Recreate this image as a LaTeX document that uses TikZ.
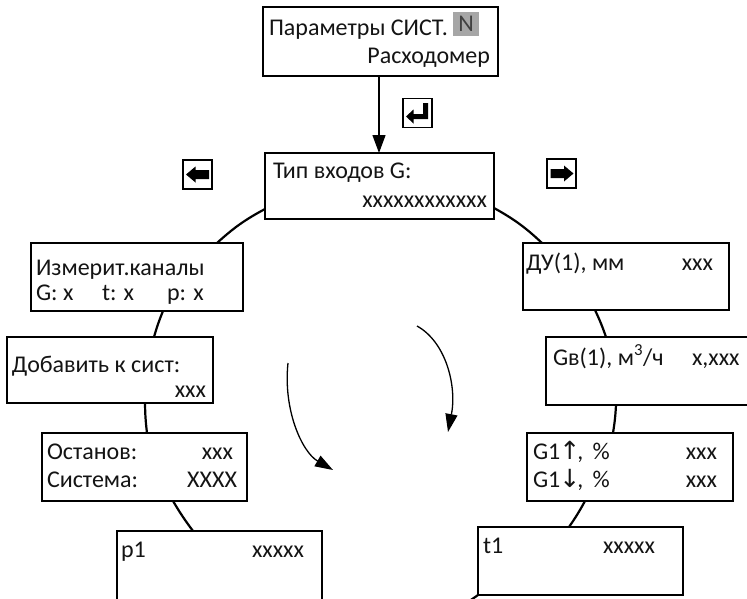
\documentclass[tikz,border=0pt]{standalone}
\usepackage{fontspec}
\setmainfont{Carlito}
\newfontfamily\symf{DejaVu Sans}
\usetikzlibrary{arrows.meta,calc}
\definecolor{hlgray}{RGB}{166,166,166}
\definecolor{ink}{RGB}{20,20,20}
\tikzset{
  box/.style={draw=black, line width=2.2pt, fill=white, rectangle, inner sep=0pt, outer sep=0pt, anchor=north west},
  txt/.style={inner sep=0pt, outer sep=0pt, text=ink, font=\fontsize{24}{28}\selectfont},
  conn/.style={draw=black, line width=2.2pt},
  keybox/.style={draw=black, line width=1.4pt, fill=white, rectangle, inner sep=0pt, minimum width=29pt, minimum height=29pt},
  rotarrow/.style={draw=black, line width=1.3pt, -{Triangle[length=18pt,width=12pt]}}
}
\begin{document}
\begin{tikzpicture}[x=1pt,y=1pt]
\useasboundingbox (0,0) rectangle (747,-598);

% --- boxes ---
\node[box, minimum width=235pt, minimum height=69pt] (top) at (263,-7) {};
\node[box, minimum width=229pt, minimum height=66pt] (tip) at (265,-153) {};
\node[box, minimum width=212pt, minimum height=68pt] (izm) at (31,-243) {};
\node[box, minimum width=206pt, minimum height=66pt] (dob) at (7,-337) {};
\node[box, minimum width=205pt, minimum height=68pt] (ost) at (42,-433) {};
\node[box, minimum width=205pt, minimum height=69pt] (p1) at (117,-531) {};
\node[box, minimum width=206pt, minimum height=67pt] (du) at (523,-243) {};
\node[box, minimum width=216pt, minimum height=68pt] (gv) at (546,-337) {};
\node[box, minimum width=206pt, minimum height=68pt] (g1) at (527,-433) {};
\node[box, minimum width=205pt, minimum height=68pt] (t1) at (478,-527) {};

% --- connectors (ring) ---
\draw[conn] ($(tip.south west)+(0,10)$) to[bend right=7] ($(izm.north east)+(-26,0)$);
\draw[conn] ($(tip.south east)+(0,11)$) to[bend left=7] ($(du.north west)+(19,0)$);
\draw[conn] ($(izm.south west)+(132,0)$) to[bend right=3] ($(dob.north west)+(147,0)$);
\draw[conn] ($(dob.south west)+(138,0)$) to[bend right=3] ($(ost.north west)+(105,0)$);
\draw[conn] ($(ost.south west)+(131,0)$) to[bend right=3] ($(p1.north west)+(76,0)$);
\draw[conn] ($(du.south west)+(72,0)$) to[bend left=3] ($(gv.north west)+(60,0)$);
\draw[conn] ($(gv.south west)+(70,0)$) to[bend left=3] ($(g1.north west)+(86,0)$);
\draw[conn] ($(g1.south west)+(58,0)$) to[bend left=3] ($(t1.north west)+(91,0)$);
\coordinate (tout) at (466,-603);
\draw[conn] (t1.south west) to[bend left=2] (tout);

% --- entry arrow ---
\draw[line width=1.3pt, -{Triangle[length=18pt,width=13pt]}] (top.south -| 379,0) -- (tip.north -| 379,0);

% --- key icons ---
\node[keybox] (kenter) at (417.5,-113) {};
\fill[black] ($(kenter.center)+(-11.5,-3.5)$) -- ++(7.5,7) -- ++(0,-4.5) -- ++(9.5,0) -- ++(0,11) -- ++(5,0)
  -- ++(0,-16) -- ++(-14.5,0) -- ++(0,-4.5) -- cycle;
\node[keybox] (kleft) at (197.5,-174.5) {};
\fill[black] ($(kleft.center)+(-11.5,0)$) -- ++(9.5,8) -- ++(0,-3.5) -- ++(13.5,0) -- ++(0,-9) -- ++(-13.5,0) -- ++(0,-3.5) -- cycle;
\node[keybox] (kright) at (561.5,-173.5) {};
\fill[black] ($(kright.center)+(12,0)$) -- ++(-9.5,8) -- ++(0,-3.5) -- ++(-13.5,0) -- ++(0,-9) -- ++(13.5,0) -- ++(0,-3.5) -- cycle;

% --- rotation arrows ---
\coordinate (la0) at (288,-363);
\coordinate (la1) at (333,-470);
\draw[rotarrow] (la0) .. controls (283,-410) and (302,-452) .. (la1);
\coordinate (ra0) at (417,-326);
\coordinate (ra1) at (448,-432);
\draw[rotarrow] (ra0) .. controls (446,-342) and (457,-386) .. (ra1);

% --- texts ---
\node[txt, anchor=base west] (t-top1) at (269,-35) {Параметры СИСТ.};
\node[fill=hlgray, inner sep=0pt, minimum width=26pt, minimum height=24pt, anchor=north west, text=black!75, font=\fontsize{24}{28}\selectfont] (t-topN) at (453,-12) {N};
\node[txt, anchor=base east] (t-top2) at (490,-63) {Расходомер};

\node[txt, anchor=base west] (t-tip1) at (273,-178) {Тип входов G:};
\node[txt, anchor=base east] (t-tip2) at (487,-207) {xxxxxxxxxxxx};

\node[txt, anchor=base west] (t-izm1) at (36,-275) {Измерит.каналы};
\node[txt, anchor=base west] (t-izm2) at (36,-300) {G: x};
\node[txt, anchor=base west] (t-izm3) at (102,-300) {t: x};
\node[txt, anchor=base west] (t-izm4) at (167,-300) {p: x};

\node[txt, anchor=base west] (t-dob1) at (12,-372) {Добавить к сист:};
\node[txt, anchor=base east] (t-dob2) at (206,-397) {xxx};

\node[txt, anchor=base west] (t-ost1) at (47,-459) {Останов:};
\node[txt, anchor=base east] (t-ost2) at (233,-459) {xxx};
\node[txt, anchor=base west] (t-ost3) at (47,-487) {Система:};
\node[txt, anchor=base east] (t-ost4) at (237,-487) {XXXX};

\node[txt, anchor=base west] (t-p1a) at (121,-557) {p1};
\node[txt, anchor=base west] (t-p1b) at (252,-557) {xxxxx};

\node[txt, anchor=base west] (t-du1) at (526,-270) {ДУ(1), мм};
\node[txt, anchor=base east] (t-du2) at (713,-270) {xxx};

\node[txt, anchor=base west] (t-gv1) at (553,-365) {Gв(1), м\textsuperscript{3}/ч};
\node[txt, anchor=base west] (t-gv2) at (692,-365) {x,xxx};

\node[txt, anchor=base west] (t-g1a) at (533,-459) {G1\kern-1pt{\symf\fontsize{25}{28}\selectfont ↑}\kern-3pt, \,\%};
\node[txt, anchor=base east] (t-g1b) at (717,-459) {xxx};
\node[txt, anchor=base west] (t-g1c) at (533,-487) {G1\kern-1pt{\symf\fontsize{25}{28}\selectfont ↓}\kern-3pt, \,\%};
\node[txt, anchor=base east] (t-g1d) at (717,-487) {xxx};

\node[txt, anchor=base west] (t-t1a) at (483,-553) {t1};
\node[txt, anchor=base west] (t-t1b) at (603,-553) {xxxxx};
\end{tikzpicture}
\end{document}
